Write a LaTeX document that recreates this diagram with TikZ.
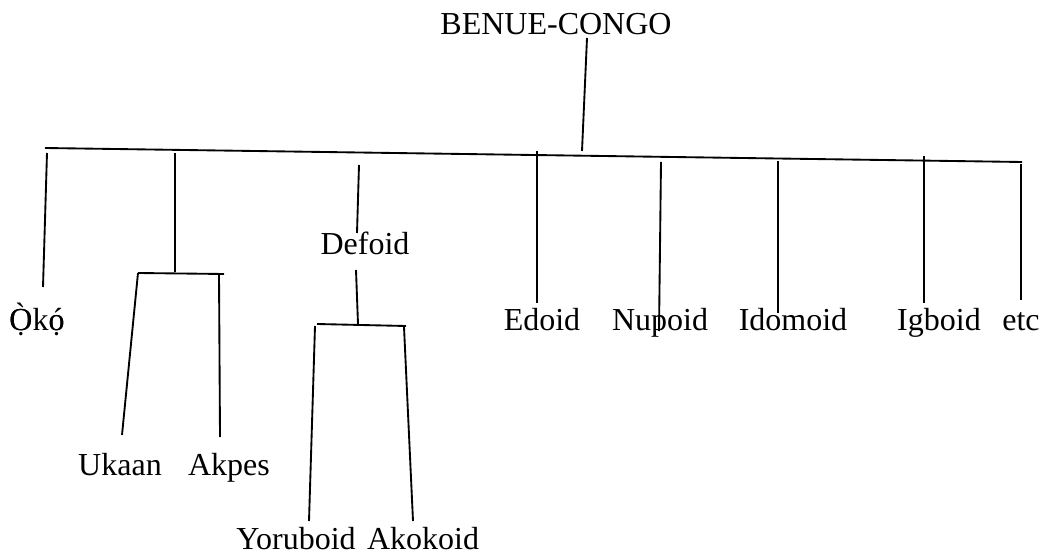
\documentclass[tikz,border=0pt]{standalone}
\usepackage{fontspec}
\setmainfont{Liberation Serif}
% letters with a dot below and a tone mark, built by overlaying two precomposed glyphs
\newcommand{\DotGraveO}{\ooalign{Ọ\cr Ò}}
\newcommand{\DotAcuteo}{\ooalign{ọ\cr ó}}
\begin{document}
\begin{tikzpicture}[x=0.75pt,y=-0.75pt,
  lbl/.style={anchor=base,inner sep=0pt,font=\fontsize{24}{28}\selectfont},
  br/.style={line width=1.4pt,line cap=butt}]
\useasboundingbox (0,0) rectangle (1044,555);

% labels
\node[lbl] (bc)  at (556,35)  {BENUE-CONGO};
\node[lbl] (oko) at (37,330)  {\DotGraveO k\DotAcuteo};
\node[lbl] (def) at (365,255) {Defoid};
\node[lbl] (uka) at (120,475) {Ukaan};
\node[lbl] (akp) at (229,475) {Akpes};
\node[lbl] (yor) at (296,549) {Yoruboid};
\node[lbl] (ako) at (423,549) {Akokoid};
\node[lbl] (edo) at (542,330) {Edoid};
\node[lbl] (nup) at (660,330) {Nupoid};
\node[lbl] (ido) at (793,330) {Idomoid};
\node[lbl] (igb) at (939,330) {Igboid};
\node[lbl] (etc) at (1021,330) {etc};

% main branch points
\coordinate (bcT) at (587,38);
\coordinate (bcB) at (582,151);
\coordinate (mL)  at (45,148);
\coordinate (mR)  at (1022,162);

\draw[br] (bcT) -- (bcB);
\draw[br] (mL) -- (mR);

% Oko
\coordinate (okT) at (47,153);
\coordinate (okB) at (43,287);
\draw[br] (okT) -- (okB);

% Ukaan / Akpes
\coordinate (ukT) at (175,153);
\coordinate (ukM) at (175,272);
\coordinate (ukL) at (138,273);
\coordinate (ukR) at (224,274);
\coordinate (ukLs) at (138,273);
\coordinate (ukLb) at (122,435);
\coordinate (ukRs) at (219,274);
\coordinate (ukRb) at (220,437);
\draw[br] (ukT) -- (ukM);
\draw[br] (ukL) -- (ukR);
\draw[br] (ukLs) -- (ukLb);
\draw[br] (ukRs) -- (ukRb);

% Defoid
\coordinate (dfT) at (359,165);
\coordinate (dfA) at (357,233);
\coordinate (dfC) at (356,270);
\coordinate (dfD) at (358,324);
\coordinate (dfL) at (317,324);
\coordinate (dfR) at (406,326);
\coordinate (yoT) at (315,326);
\coordinate (yoB) at (309,521);
\coordinate (akT) at (404,327);
\coordinate (akB) at (413,521);
\draw[br] (dfT) -- (dfA);
\draw[br] (dfC) -- (dfD);
\draw[br] (dfL) -- (dfR);
\draw[br] (yoT) -- (yoB);
\draw[br] (akT) -- (akB);

% remaining daughters
\coordinate (edT) at (537,151);
\coordinate (edB) at (537,303);
\coordinate (nuT) at (661,162);
\coordinate (nuB) at (659,331);
\coordinate (idT) at (778,161);
\coordinate (idB) at (778,313);
\coordinate (igT) at (924,156);
\coordinate (igB) at (924,303);
\coordinate (etT) at (1021,164);
\coordinate (etB) at (1021,300);
\draw[br] (edT) -- (edB);
\draw[br] (nuT) -- (nuB);
\draw[br] (idT) -- (idB);
\draw[br] (igT) -- (igB);
\draw[br] (etT) -- (etB);
\end{tikzpicture}
\end{document}
